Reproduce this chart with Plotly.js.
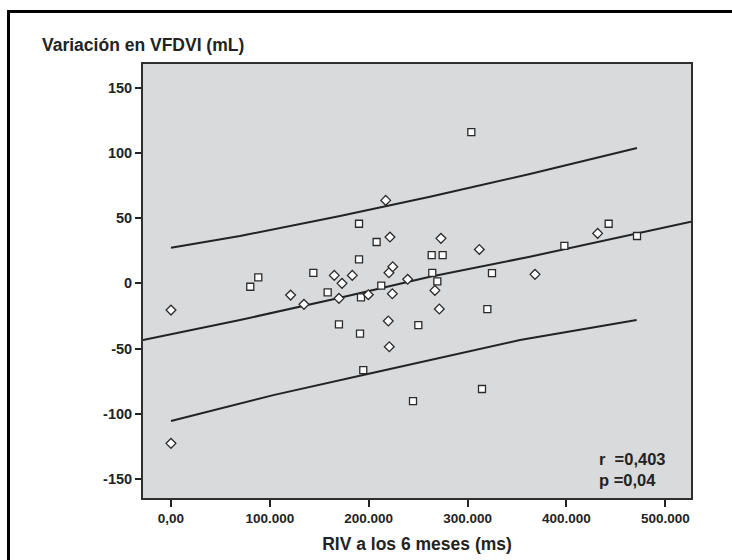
<!DOCTYPE html>
<html>
<head>
<meta charset="utf-8">
<script src="https://cdn.plot.ly/plotly-3.0.1.min.js"></script>
<style>html,body{margin:0;padding:0;background:#fff;}#chart{width:732px;height:560px;}</style>
</head>
<body>
<div id="chart"></div>
<script>
// Square markers (group A): x = RIV a los 6 meses (ms), y = variación VFDVI (mL)
const squareX = [80200, 88300, 144000, 158500, 169900, 190200, 190200, 191200, 192200, 194500, 208000, 212700, 244800, 250200, 263700, 264300, 269400, 274800, 303800, 314600, 320000, 324700, 397900, 442700, 471400];
const squareY = [-2.6, 4.6, 8.1, -6.9, -31.4, 45.7, 18.4, -38.6, -10.7, -66.5, 31.7, -1.8, -90.3, -32, 21.7, 8.1, 1.5, 21.7, 116, -81, -19.7, 7.9, 28.8, 45.7, 36.3];
// Diamond markers (group B)
const diamondX = [0, 0, 121000, 134500, 165200, 169900, 173000, 183400, 199600, 217200, 219800, 220500, 220800, 221500, 223900, 224300, 239400, 267000, 271400, 273100, 311900, 368200, 431600];
const diamondY = [-20.5, -122.7, -9, -16.1, 6.1, -11.5, 0, 6.1, -8.7, 63.6, -28.9, 8.1, -48.6, 35.5, -8.0, 12.7, 3.1, -5.4, -19.7, 34.5, 26, 6.9, 38.3];
// Fit line and interval bands
const fitX = [-28300, 0, 69800, 171000, 262000, 363000, 526000];
const fitY = [-43.5, -38.9, -28.1, -11, 5.1, 20.4, 47.2];
const upperX = [0, 69800, 171000, 262000, 363000, 471400];
const upperY = [27.3, 36.3, 51.6, 66.4, 83.8, 103.8];
const lowerX = [0, 103500, 204600, 353000, 471000];
const lowerY = [-105.6, -85.7, -68.6, -43.5, -28.1];
// Tick labels
const xTickVals = [0, 100000, 200000, 300000, 400000, 500000];
const xTickText = ["0,00", "100.000", "200.000", "300.000", "400.000", "500.000"];
const yTickVals = [-150, -100, -50, 0, 50, 100, 150];
const yTickText = ["-150", "-100", "-50", "0", "50", "100", "150"];
const statsText = ["r\u00a0\u00a0=0,403", "p =0,04"];

const FONT = "Liberation Sans, Arial, Helvetica, sans-serif";
const INK = "#232323";
const lineStyle = {color: INK, width: 2};

const traces = [
  {x: fitX, y: fitY, mode: "lines", line: lineStyle, hoverinfo: "skip", showlegend: false},
  {x: upperX, y: upperY, mode: "lines", line: lineStyle, hoverinfo: "skip", showlegend: false},
  {x: lowerX, y: lowerY, mode: "lines", line: lineStyle, hoverinfo: "skip", showlegend: false},
  {x: squareX, y: squareY, mode: "markers", showlegend: false,
   marker: {symbol: "square", size: 7, color: "#ffffff", line: {color: "#2b2b2b", width: 1.3}}},
  {x: diamondX, y: diamondY, mode: "markers", showlegend: false,
   marker: {symbol: "diamond", size: 7.5, color: "#ffffff", line: {color: "#2b2b2b", width: 1.3}}}
];

const L = 143, R = 691, T = 64, B = 498, W = 732, H = 560;
const px2x = p => (p - L) / (R - L);
const px2y = p => (B - p) / (B - T);

const layout = {
  width: W, height: H,
  margin: {l: L, r: W - R, t: T, b: H - B, pad: 0},
  paper_bgcolor: "#ffffff",
  plot_bgcolor: "#d9dadc",
  font: {family: FONT, color: INK},
  showlegend: false,
  xaxis: {
    range: [-28300, 526000],
    tickvals: xTickVals, ticktext: xTickText,
    ticks: "outside", ticklen: 7, tickwidth: 2, tickcolor: INK,
    showline: true, mirror: true, linecolor: "#2e2e2e", linewidth: 2,
    showgrid: false, zeroline: false,
    tickfont: {family: FONT, size: 13.5, color: INK, weight: "bold"},
    title: {text: "RIV a los 6 meses (ms)", font: {family: FONT, size: 17.5, color: INK, weight: "bold"}, standoff: 13}
  },
  yaxis: {
    range: [-164.6, 168.2],
    tickvals: yTickVals, ticktext: yTickText,
    ticks: "outside", ticklen: 6, tickwidth: 2, tickcolor: INK,
    showline: true, mirror: true, linecolor: "#2e2e2e", linewidth: 2,
    showgrid: false, zeroline: false,
    tickfont: {family: FONT, size: 14.5, color: INK, weight: "bold"}
  },
  annotations: [
    {xref: "paper", yref: "paper", x: px2x(40), y: px2y(45), xanchor: "left", yanchor: "middle",
     text: "<b>Variación en VFDVI (mL)</b>", showarrow: false, font: {family: FONT, size: 17.5, color: INK}},
    {xref: "paper", yref: "paper", x: px2x(597), y: px2y(469), xanchor: "left", yanchor: "middle", align: "left",
     text: "<b>" + statsText[0] + "<br>" + statsText[1] + "</b>", showarrow: false,
     font: {family: FONT, size: 16.5, color: INK}}
  ],
  shapes: [
    {type: "rect", xref: "paper", yref: "paper", x0: px2x(8.5), x1: px2x(740), y0: px2y(11.5), y1: px2y(570),
     line: {color: "#000000", width: 3}, fillcolor: "rgba(0,0,0,0)", layer: "below"}
  ]
};

Plotly.newPlot("chart", traces, layout, {staticPlot: true, displayModeBar: false});
</script>
</body>
</html>
